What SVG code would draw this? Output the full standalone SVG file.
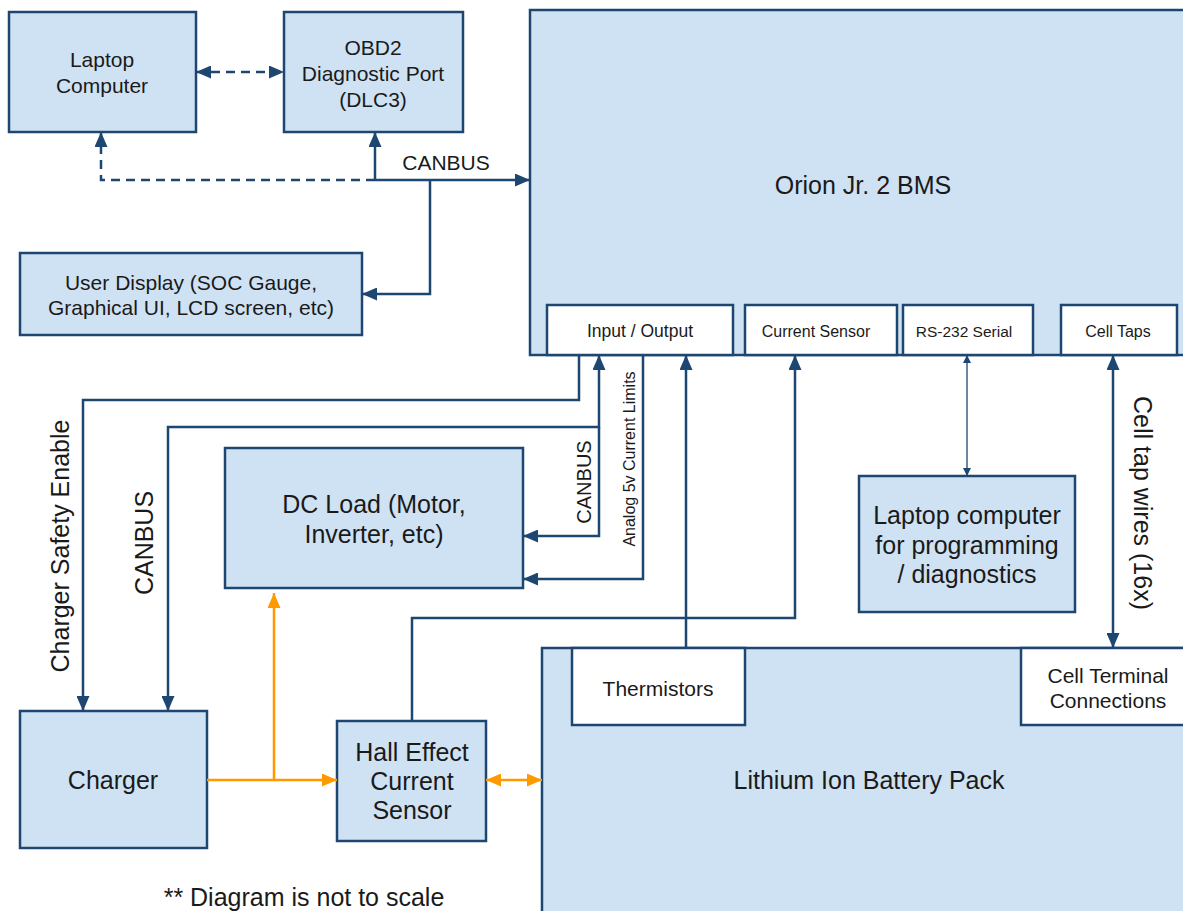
<svg xmlns="http://www.w3.org/2000/svg" width="1183" height="911" viewBox="0 0 1183 911">
<defs>
<style>
.box{fill:#cfe2f3;stroke:#1d4671;stroke-width:2.5}
.sub{fill:#ffffff;stroke:#1d4671;stroke-width:2.5}
.ln{fill:none;stroke:#1d4671;stroke-width:2.5}
.thin{fill:none;stroke:#1d4671;stroke-width:1.3}
.dash{fill:none;stroke:#1d4671;stroke-width:2.5;stroke-dasharray:9,6}
.or{fill:none;stroke:#ff9900;stroke-width:2.5}
text{font-family:"Liberation Sans",Arial,sans-serif;fill:#1a1a1a;text-anchor:middle}
.t21{font-size:21px}
.t25{font-size:25px}
</style>
<marker id="ab" viewBox="0 0 15 13" refX="15" refY="6.5" markerWidth="15" markerHeight="13" markerUnits="userSpaceOnUse" orient="auto-start-reverse"><path d="M0,0 L15,6.5 L0,13 z" fill="#1d4671"/></marker>
<marker id="as" viewBox="0 0 8 8" refX="8" refY="4" markerWidth="8" markerHeight="8" markerUnits="userSpaceOnUse" orient="auto-start-reverse"><path d="M0,0 L8,4 L0,8 z" fill="#1d4671"/></marker>
<marker id="ao" viewBox="0 0 15 13" refX="15" refY="6.5" markerWidth="15" markerHeight="13" markerUnits="userSpaceOnUse" orient="auto-start-reverse"><path d="M0,0 L15,6.5 L0,13 z" fill="#ff9900"/></marker>
</defs>

<g id="orion">
<rect class="box" x="530" y="10" width="670" height="345"/>
<text class="t25" x="863" y="194">Orion Jr. 2 BMS</text>
</g>
<g id="io"><rect class="sub" x="547" y="305" width="186" height="50"/><text x="640" y="337" style="font-size:17.5px">Input / Output</text></g>
<g id="cursensor"><rect class="sub" x="745" y="305" width="152" height="50"/><text x="816" y="337" style="font-size:16px">Current Sensor</text></g>
<g id="rs232"><rect class="sub" x="903" y="305" width="130" height="50"/><text x="964" y="337" style="font-size:15.5px">RS-232 Serial</text></g>
<g id="celltaps"><rect class="sub" x="1061" y="305" width="116" height="50"/><text x="1118" y="337" style="font-size:16px">Cell Taps</text></g>

<g id="laptop"><rect class="box" x="9" y="12" width="187" height="120"/><text class="t21" x="102" y="67">Laptop</text><text class="t21" x="102" y="93">Computer</text></g>
<g id="obd2"><rect class="box" x="284" y="12" width="179" height="120"/><text class="t21" x="373" y="55">OBD2</text><text class="t21" x="373" y="81">Diagnostic Port</text><text class="t21" x="373" y="107">(DLC3)</text></g>
<g id="userdisplay"><rect class="box" x="20" y="253" width="342" height="82"/><text class="t21" x="191" y="290">User Display (SOC Gauge,</text><text class="t21" x="191" y="315">Graphical UI, LCD screen, etc)</text></g>
<g id="dcload"><rect class="box" x="225" y="448" width="298" height="140"/><text class="t25" x="374" y="513">DC Load (Motor,</text><text class="t25" x="374" y="543">Inverter, etc)</text></g>
<g id="laptopprog"><rect class="box" x="859" y="476" width="216" height="136"/><text class="t25" x="967" y="524">Laptop computer</text><text class="t25" x="967" y="554">for programming</text><text class="t25" x="967" y="583">/ diagnostics</text></g>
<g id="charger"><rect class="box" x="20" y="711" width="187" height="137"/><text class="t25" x="113" y="789">Charger</text></g>
<g id="hall"><rect class="box" x="337" y="721" width="149" height="120"/><text class="t25" x="412" y="761">Hall Effect</text><text class="t25" x="412" y="790">Current</text><text class="t25" x="412" y="819">Sensor</text></g>
<g id="battery">
<rect class="box" x="542" y="648" width="660" height="280"/>
<text class="t25" x="869" y="789">Lithium Ion Battery Pack</text>
</g>
<g id="thermistors"><rect class="sub" x="572" y="648" width="173" height="77"/><text class="t21" x="658" y="696">Thermistors</text></g>
<g id="cellterminal"><rect class="sub" x="1021" y="648" width="180" height="77"/><text class="t21" x="1108" y="683">Cell Terminal</text><text class="t21" x="1108" y="708">Connections</text></g>

<g id="connectors">
<path class="dash" d="M196,72 L284,72" marker-start="url(#ab)" marker-end="url(#ab)"/>
<path class="dash" d="M375,180 L101,180 L101,132" marker-end="url(#ab)"/>
<path class="ln" d="M375,180 L530,180" marker-end="url(#ab)"/>
<path class="ln" d="M375,180 L375,132" marker-end="url(#ab)"/>
<path class="ln" d="M430,180 L430,294 L362,294" marker-end="url(#ab)"/>
<path class="ln" d="M579,355 L579,400 L83,400 L83,711" marker-end="url(#ab)"/>
<path class="ln" d="M168,711 L168,427 L599,427 L599,355" marker-start="url(#ab)" marker-end="url(#ab)"/>
<path class="ln" d="M599,427 L599,536 L523,536" marker-end="url(#ab)"/>
<path class="ln" d="M643,355 L643,579 L523,579" marker-end="url(#ab)"/>
<path class="ln" d="M686,648 L686,355" marker-end="url(#ab)"/>
<path class="ln" d="M412,721 L412,618 L795,618 L795,355" marker-end="url(#ab)"/>
<path class="thin" d="M967,355 L967,476" marker-start="url(#as)" marker-end="url(#as)"/>
<path class="ln" d="M1113,355 L1113,648" marker-start="url(#ab)" marker-end="url(#ab)"/>
<path class="or" d="M207,780 L337,780" marker-end="url(#ao)"/>
<path class="or" d="M274,780 L274,593" marker-end="url(#ao)"/>
<path class="or" d="M486,780 L542,780" marker-start="url(#ao)" marker-end="url(#ao)"/>
<text class="t21" x="446" y="170">CANBUS</text>
<text class="t25" transform="translate(69,546) rotate(-90)">Charger Safety Enable</text>
<text class="t25" transform="translate(153,543) rotate(-90)">CANBUS</text>
<text transform="translate(591,482) rotate(-90)" style="font-size:20px">CANBUS</text>
<text transform="translate(635,459) rotate(-90)" style="font-size:16px">Analog 5v Current Limits</text>
<text class="t25" transform="translate(1134,503) rotate(90)">Cell tap wires (16x)</text>
</g>
<text class="t25" x="304" y="906">** Diagram is not to scale</text>
</svg>
